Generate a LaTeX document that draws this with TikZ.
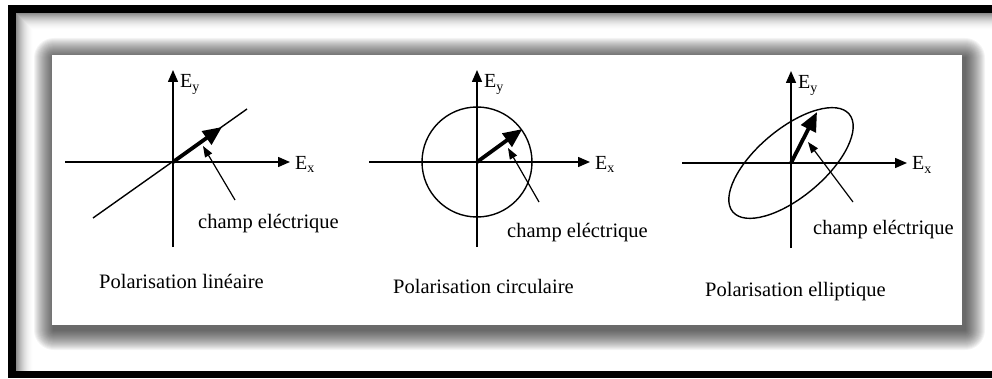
\documentclass[tikz,border=0pt]{standalone}
\usepackage{fontspec}
\setmainfont{Liberation Serif}
\usetikzlibrary{arrows.meta}
\tikzset{
  axe/.style={line width=1.5pt,-{Triangle[length=12pt,width=10pt]}},
  courbe/.style={line width=1.4pt},
  vect/.style={line width=3.8pt,-{Triangle[length=19pt,width=16pt]}},
  fleche/.style={line width=1.2pt,-{Triangle[length=11pt,width=8pt]}},
  etiq/.style={inner sep=0pt,anchor=base west,font=\fontsize{20}{24}\selectfont},
  texte/.style={inner sep=0pt,anchor=base west,font=\fontsize{20.5}{24}\selectfont},
}

\begin{document}
\begin{tikzpicture}[x=1pt,y=1pt]
  \useasboundingbox (0,0) rectangle (992,378);
  % cadre
  \foreach \i [evaluate=\i as \op using 0.45*(1-\i/18)^2] in {0,...,17}
    \draw[black,opacity=\op,line width=1pt] ({16.5+\i},7) -- ({16.5+\i},{364.5-\i}) -- (992,{364.5-\i});
  \fill[black] (8,365) rectangle (992,373);
  \fill[black] (8,0) rectangle (16,373);
  \fill[black] (8,0) rectangle (992,7);
  % ombre du panneau
  \foreach \i in {1,...,20}
    \fill[black,opacity=0.042,rounded corners=\i pt] ({54-\i},{48-\i}) rectangle ({965+\i},{320+\i});
  \fill[white] (52,53) rectangle (962,323);

  % lineaire
  \begin{scope}[shift={(173,216)}]
    \coordinate (o1) at (0,0);
    \draw[axe] (-108,0) -- (117,0);
    \draw[axe] (0,-85) -- (0,92);
    \draw[courbe] (-80,-56) -- (74,53);
    \draw[vect] (o1) -- (49,35);
    \coordinate (p1) at (62,-38);
    \coordinate (q1) at (30,16);
    \draw[fleche] (p1) -- (q1);
    \node[etiq] (ex1) at (122,-7) {E\textsubscript{x}};
    \node[etiq] (ey1) at (7,74) {E\textsubscript{y}};
    \node[texte] (ch1) at (25,-66) {champ eléctrique};
    \node[texte] (ti1) at (-74,-126) {Polarisation linéaire};
  \end{scope}

  % circulaire
  \begin{scope}[shift={(477,216)}]
    \coordinate (o2) at (0,0);
    \draw[axe] (-108,0) -- (113,0);
    \draw[axe] (0,-85) -- (0,92);
    \draw[courbe] (o2) circle[radius=55];
    \draw[vect] (o2) -- (36:56);
    \coordinate (p2) at (62,-40);
    \coordinate (q2) at (31,14);
    \draw[fleche] (p2) -- (q2);
    \node[etiq] (ex2) at (118,-7) {E\textsubscript{x}};
    \node[etiq] (ey2) at (7,74) {E\textsubscript{y}};
    \node[texte] (ch2) at (30,-75) {champ eléctrique};
    \node[texte] (ti2) at (-84,-131) {Polarisation circulaire};
  \end{scope}

  % elliptique
  \begin{scope}[shift={(791,215)}]
    \coordinate (o3) at (0,0);
    \draw[axe] (-109,0) -- (116,0);
    \draw[axe] (0,-85) -- (0,92);
    \draw[courbe,rotate=40] (o3) ellipse[x radius=76,y radius=34];
    \draw[vect] (o3) -- (26,51);
    \coordinate (p3) at (62,-39);
    \coordinate (q3) at (17,21);
    \draw[fleche] (p3) -- (q3);
    \node[etiq] (ex3) at (121,-7) {E\textsubscript{x}};
    \node[etiq] (ey3) at (7,74) {E\textsubscript{y}};
    \node[texte] (ch3) at (22,-71) {champ eléctrique};
    \node[texte] (ti3) at (-86,-133) {Polarisation elliptique};
  \end{scope}
\end{tikzpicture}
\end{document}
